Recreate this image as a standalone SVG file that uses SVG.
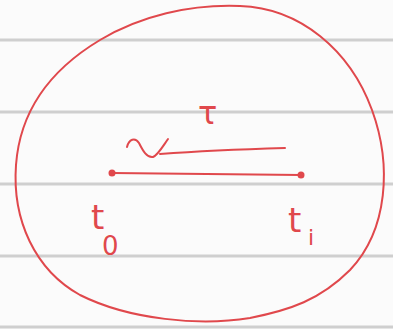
<svg xmlns="http://www.w3.org/2000/svg" width="393" height="329" viewBox="0 0 393 329">
<style>
.rule{stroke:#cfcfcf;stroke-width:3}
.ink{fill:none;stroke:#e0484c;stroke-width:2;stroke-linecap:round;stroke-linejoin:round}
.lbl{fill:#e0484c;font-family:"DejaVu Sans",sans-serif}
</style>
<rect width="393" height="329" fill="#fbfbfb"/>
<g id="paper">
<line class="rule" x1="0" y1="40" x2="393" y2="40"/>
<line class="rule" x1="0" y1="112" x2="393" y2="112"/>
<line class="rule" x1="0" y1="184" x2="393" y2="184"/>
<line class="rule" x1="0" y1="256" x2="393" y2="256"/>
<line class="rule" x1="0" y1="327" x2="393" y2="327"/>
</g>
<g id="region">
<path class="ink" d="M240,6 C300,8 350,50 372,110 C392,165 388,230 350,270 C320,300 290,310 250,318 C200,326 130,320 80,295 C35,270 12,220 16,165 C20,110 50,70 100,40 C140,16 190,4 240,6 Z"/>
</g>
<g id="connectors">
<line class="ink" x1="112" y1="173" x2="301" y2="175"/>
<path class="ink" d="M127,147 C129,139 135,137 139,143 C143,151 147,158 153,157 C158,155 163,146 168,139 M160,154 C200,151 250,149 285,148"/>
</g>
<g id="t0">
<circle cx="112" cy="173" r="3.5" fill="#e0484c"/>
<text class="lbl" x="91" y="229" font-size="34">t</text>
<text class="lbl" x="102" y="255" font-size="26">0</text>
</g>
<g id="ti">
<circle cx="301" cy="175" r="3.5" fill="#e0484c"/>
<text class="lbl" x="288" y="232" font-size="34">t</text>
<text class="lbl" x="308" y="245" font-size="22">i</text>
</g>
<g id="tau">
<text class="lbl" x="198" y="124" font-size="32">τ</text>
</g>
</svg>
